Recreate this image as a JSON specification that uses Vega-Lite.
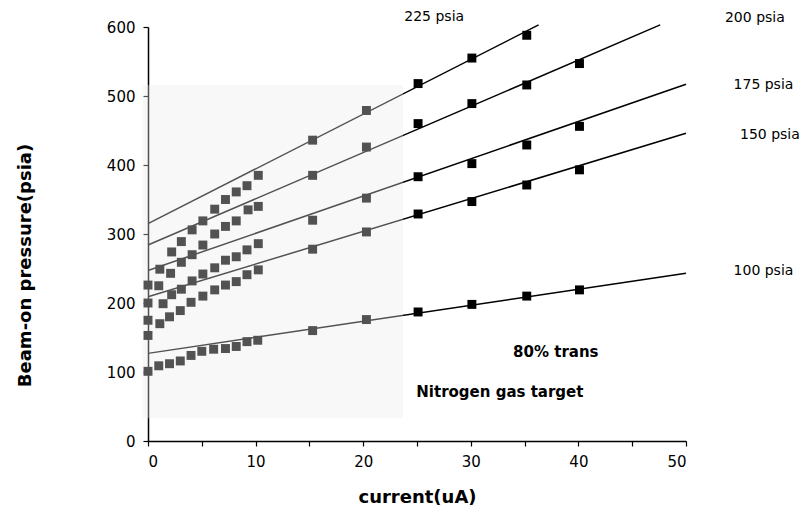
{
  "$schema": "https://vega.github.io/schema/vega-lite/v6.json",
  "width": 538,
  "height": 414,
  "autosize": {"type": "none"},
  "padding": {"left": 148, "top": 27, "right": 126, "bottom": 90},
  "background": "white",
  "config": {
    "view": {"stroke": null},
    "font": "DejaVu Sans",
    "axis": {
      "grid": false,
      "domainColor": "black",
      "domainWidth": 1.5,
      "tickColor": "black",
      "tickWidth": 1.2,
      "tickSize": 5,
      "labelColor": "black",
      "labelFont": "DejaVu Sans",
      "labelFontSize": 15,
      "titleFont": "DejaVu Sans",
      "titleFontWeight": "bold",
      "titleFontSize": 18,
      "titleColor": "black"
    }
  },
  "datasets": {
    "points": [
      {"series": "100", "current": 0, "pressure": 101},
      {"series": "100", "current": 1.0, "pressure": 109},
      {"series": "100", "current": 2.0, "pressure": 112},
      {"series": "100", "current": 3.0, "pressure": 116},
      {"series": "100", "current": 4.0, "pressure": 124},
      {"series": "100", "current": 5.0, "pressure": 130},
      {"series": "100", "current": 6.1, "pressure": 133},
      {"series": "100", "current": 7.2, "pressure": 134},
      {"series": "100", "current": 8.2, "pressure": 137},
      {"series": "100", "current": 9.2, "pressure": 144},
      {"series": "100", "current": 10.2, "pressure": 146},
      {"series": "100", "current": 15.3, "pressure": 160},
      {"series": "100", "current": 20.3, "pressure": 176},
      {"series": "100", "current": 25.1, "pressure": 187},
      {"series": "100", "current": 30.1, "pressure": 198},
      {"series": "100", "current": 35.2, "pressure": 210},
      {"series": "100", "current": 40.1, "pressure": 219},
      {"series": "150", "current": 0, "pressure": 153},
      {"series": "150", "current": 1.1, "pressure": 170},
      {"series": "150", "current": 2.0, "pressure": 180},
      {"series": "150", "current": 3.0, "pressure": 189},
      {"series": "150", "current": 4.0, "pressure": 201},
      {"series": "150", "current": 5.1, "pressure": 210},
      {"series": "150", "current": 6.2, "pressure": 219},
      {"series": "150", "current": 7.2, "pressure": 226},
      {"series": "150", "current": 8.2, "pressure": 231},
      {"series": "150", "current": 9.2, "pressure": 241},
      {"series": "150", "current": 10.25, "pressure": 248},
      {"series": "150", "current": 15.3, "pressure": 278},
      {"series": "150", "current": 20.3, "pressure": 303},
      {"series": "150", "current": 25.1, "pressure": 329},
      {"series": "150", "current": 30.1, "pressure": 347},
      {"series": "150", "current": 35.2, "pressure": 371},
      {"series": "150", "current": 40.1, "pressure": 393},
      {"series": "175", "current": 0, "pressure": 175},
      {"series": "175", "current": 1.4, "pressure": 199},
      {"series": "175", "current": 2.2, "pressure": 212},
      {"series": "175", "current": 3.1, "pressure": 220},
      {"series": "175", "current": 4.1, "pressure": 232},
      {"series": "175", "current": 5.1, "pressure": 242},
      {"series": "175", "current": 6.2, "pressure": 251},
      {"series": "175", "current": 7.2, "pressure": 262},
      {"series": "175", "current": 8.2, "pressure": 267},
      {"series": "175", "current": 9.2, "pressure": 277},
      {"series": "175", "current": 10.25, "pressure": 286},
      {"series": "175", "current": 15.3, "pressure": 320},
      {"series": "175", "current": 20.3, "pressure": 352},
      {"series": "175", "current": 25.1, "pressure": 383},
      {"series": "175", "current": 30.1, "pressure": 402},
      {"series": "175", "current": 35.2, "pressure": 429},
      {"series": "175", "current": 40.1, "pressure": 456},
      {"series": "200", "current": 0, "pressure": 200},
      {"series": "200", "current": 1.0, "pressure": 225},
      {"series": "200", "current": 2.1, "pressure": 243},
      {"series": "200", "current": 3.1, "pressure": 259},
      {"series": "200", "current": 4.1, "pressure": 270},
      {"series": "200", "current": 5.1, "pressure": 284},
      {"series": "200", "current": 6.2, "pressure": 300},
      {"series": "200", "current": 7.2, "pressure": 311},
      {"series": "200", "current": 8.2, "pressure": 319},
      {"series": "200", "current": 9.3, "pressure": 335},
      {"series": "200", "current": 10.25, "pressure": 340},
      {"series": "200", "current": 15.3, "pressure": 385},
      {"series": "200", "current": 20.3, "pressure": 426},
      {"series": "200", "current": 25.1, "pressure": 460},
      {"series": "200", "current": 30.1, "pressure": 489},
      {"series": "200", "current": 35.2, "pressure": 516},
      {"series": "200", "current": 40.1, "pressure": 547},
      {"series": "225", "current": 0, "pressure": 226},
      {"series": "225", "current": 1.1, "pressure": 249},
      {"series": "225", "current": 2.2, "pressure": 274},
      {"series": "225", "current": 3.1, "pressure": 289},
      {"series": "225", "current": 4.1, "pressure": 306},
      {"series": "225", "current": 5.1, "pressure": 319},
      {"series": "225", "current": 6.2, "pressure": 336},
      {"series": "225", "current": 7.2, "pressure": 350},
      {"series": "225", "current": 8.2, "pressure": 361},
      {"series": "225", "current": 9.2, "pressure": 370},
      {"series": "225", "current": 10.25, "pressure": 385},
      {"series": "225", "current": 15.3, "pressure": 436},
      {"series": "225", "current": 20.3, "pressure": 479},
      {"series": "225", "current": 25.1, "pressure": 518},
      {"series": "225", "current": 30.1, "pressure": 555},
      {"series": "225", "current": 35.2, "pressure": 588}
    ],
    "fits": [
      {"series": "100", "current": 0, "pressure": 127},
      {"series": "100", "current": 50, "pressure": 243},
      {"series": "150", "current": 0, "pressure": 209},
      {"series": "150", "current": 50, "pressure": 446},
      {"series": "175", "current": 0, "pressure": 247},
      {"series": "175", "current": 50, "pressure": 517},
      {"series": "200", "current": 0, "pressure": 284},
      {"series": "200", "current": 47.6, "pressure": 603},
      {"series": "225", "current": 0, "pressure": 315},
      {"series": "225", "current": 36.3, "pressure": 603}
    ],
    "seriesLabels": [
      {"label": "225 psia", "current": 26.6, "pressure": 614},
      {"label": "200 psia", "current": 56.4, "pressure": 613},
      {"label": "175 psia", "current": 57.2, "pressure": 516},
      {"label": "150 psia", "current": 57.8, "pressure": 443},
      {"label": "100 psia", "current": 57.2, "pressure": 246}
    ],
    "notes": [
      {"label": "80% trans", "current": 37.9, "pressure": 129},
      {"label": "Nitrogen gas target", "current": 32.7, "pressure": 71}
    ],
    "shade": [
      {"x0": -0.5, "x1": 23.7, "y0": 33, "y1": 516}
    ]
  },
  "layer": [
    {
      "data": {"name": "fits"},
      "mark": {"type": "line", "color": "black", "strokeWidth": 1.5, "clip": false},
      "encoding": {
        "x": {
          "field": "current", "type": "quantitative",
          "scale": {"domain": [0, 50], "nice": false},
          "axis": {
            "title": "current(uA)",
            "values": [0, 5, 10, 15, 20, 25, 30, 35, 40, 45, 50],
            "labelExpr": "datum.value % 10 == 0 ? datum.label : ''",
            "labelPadding": 8,
            "titlePadding": 19
          }
        },
        "y": {
          "field": "pressure", "type": "quantitative",
          "scale": {"domain": [0, 600], "nice": false},
          "axis": {
            "title": "Beam-on pressure(psia)",
            "values": [0, 50, 100, 150, 200, 250, 300, 350, 400, 450, 500, 550, 600],
            "labelExpr": "datum.value % 100 == 0 ? datum.label : ''",
            "labelPadding": 8,
            "titleX": -114,
            "titleY": 238
          }
        },
        "detail": {"field": "series"}
      }
    },
    {
      "data": {"name": "points"},
      "mark": {"type": "point", "shape": "square", "filled": true, "color": "black", "opacity": 1, "size": 80},
      "encoding": {
        "x": {"field": "current", "type": "quantitative"},
        "y": {"field": "pressure", "type": "quantitative"}
      }
    },
    {
      "data": {"name": "shade"},
      "mark": {"type": "rect", "color": "#ebebeb", "opacity": 0.35, "clip": false},
      "encoding": {
        "x": {"field": "x0", "type": "quantitative"},
        "x2": {"field": "x1"},
        "y": {"field": "y0", "type": "quantitative"},
        "y2": {"field": "y1"}
      }
    },
    {
      "data": {"name": "seriesLabels"},
      "mark": {"type": "text", "font": "DejaVu Sans", "fontSize": 14, "color": "black", "align": "center", "baseline": "middle"},
      "encoding": {
        "x": {"field": "current", "type": "quantitative"},
        "y": {"field": "pressure", "type": "quantitative"},
        "text": {"field": "label"}
      }
    },
    {
      "data": {"name": "notes"},
      "mark": {"type": "text", "font": "DejaVu Sans", "fontWeight": "bold", "fontSize": 15, "color": "black", "align": "center", "baseline": "middle"},
      "encoding": {
        "x": {"field": "current", "type": "quantitative"},
        "y": {"field": "pressure", "type": "quantitative"},
        "text": {"field": "label"}
      }
    }
  ]
}
